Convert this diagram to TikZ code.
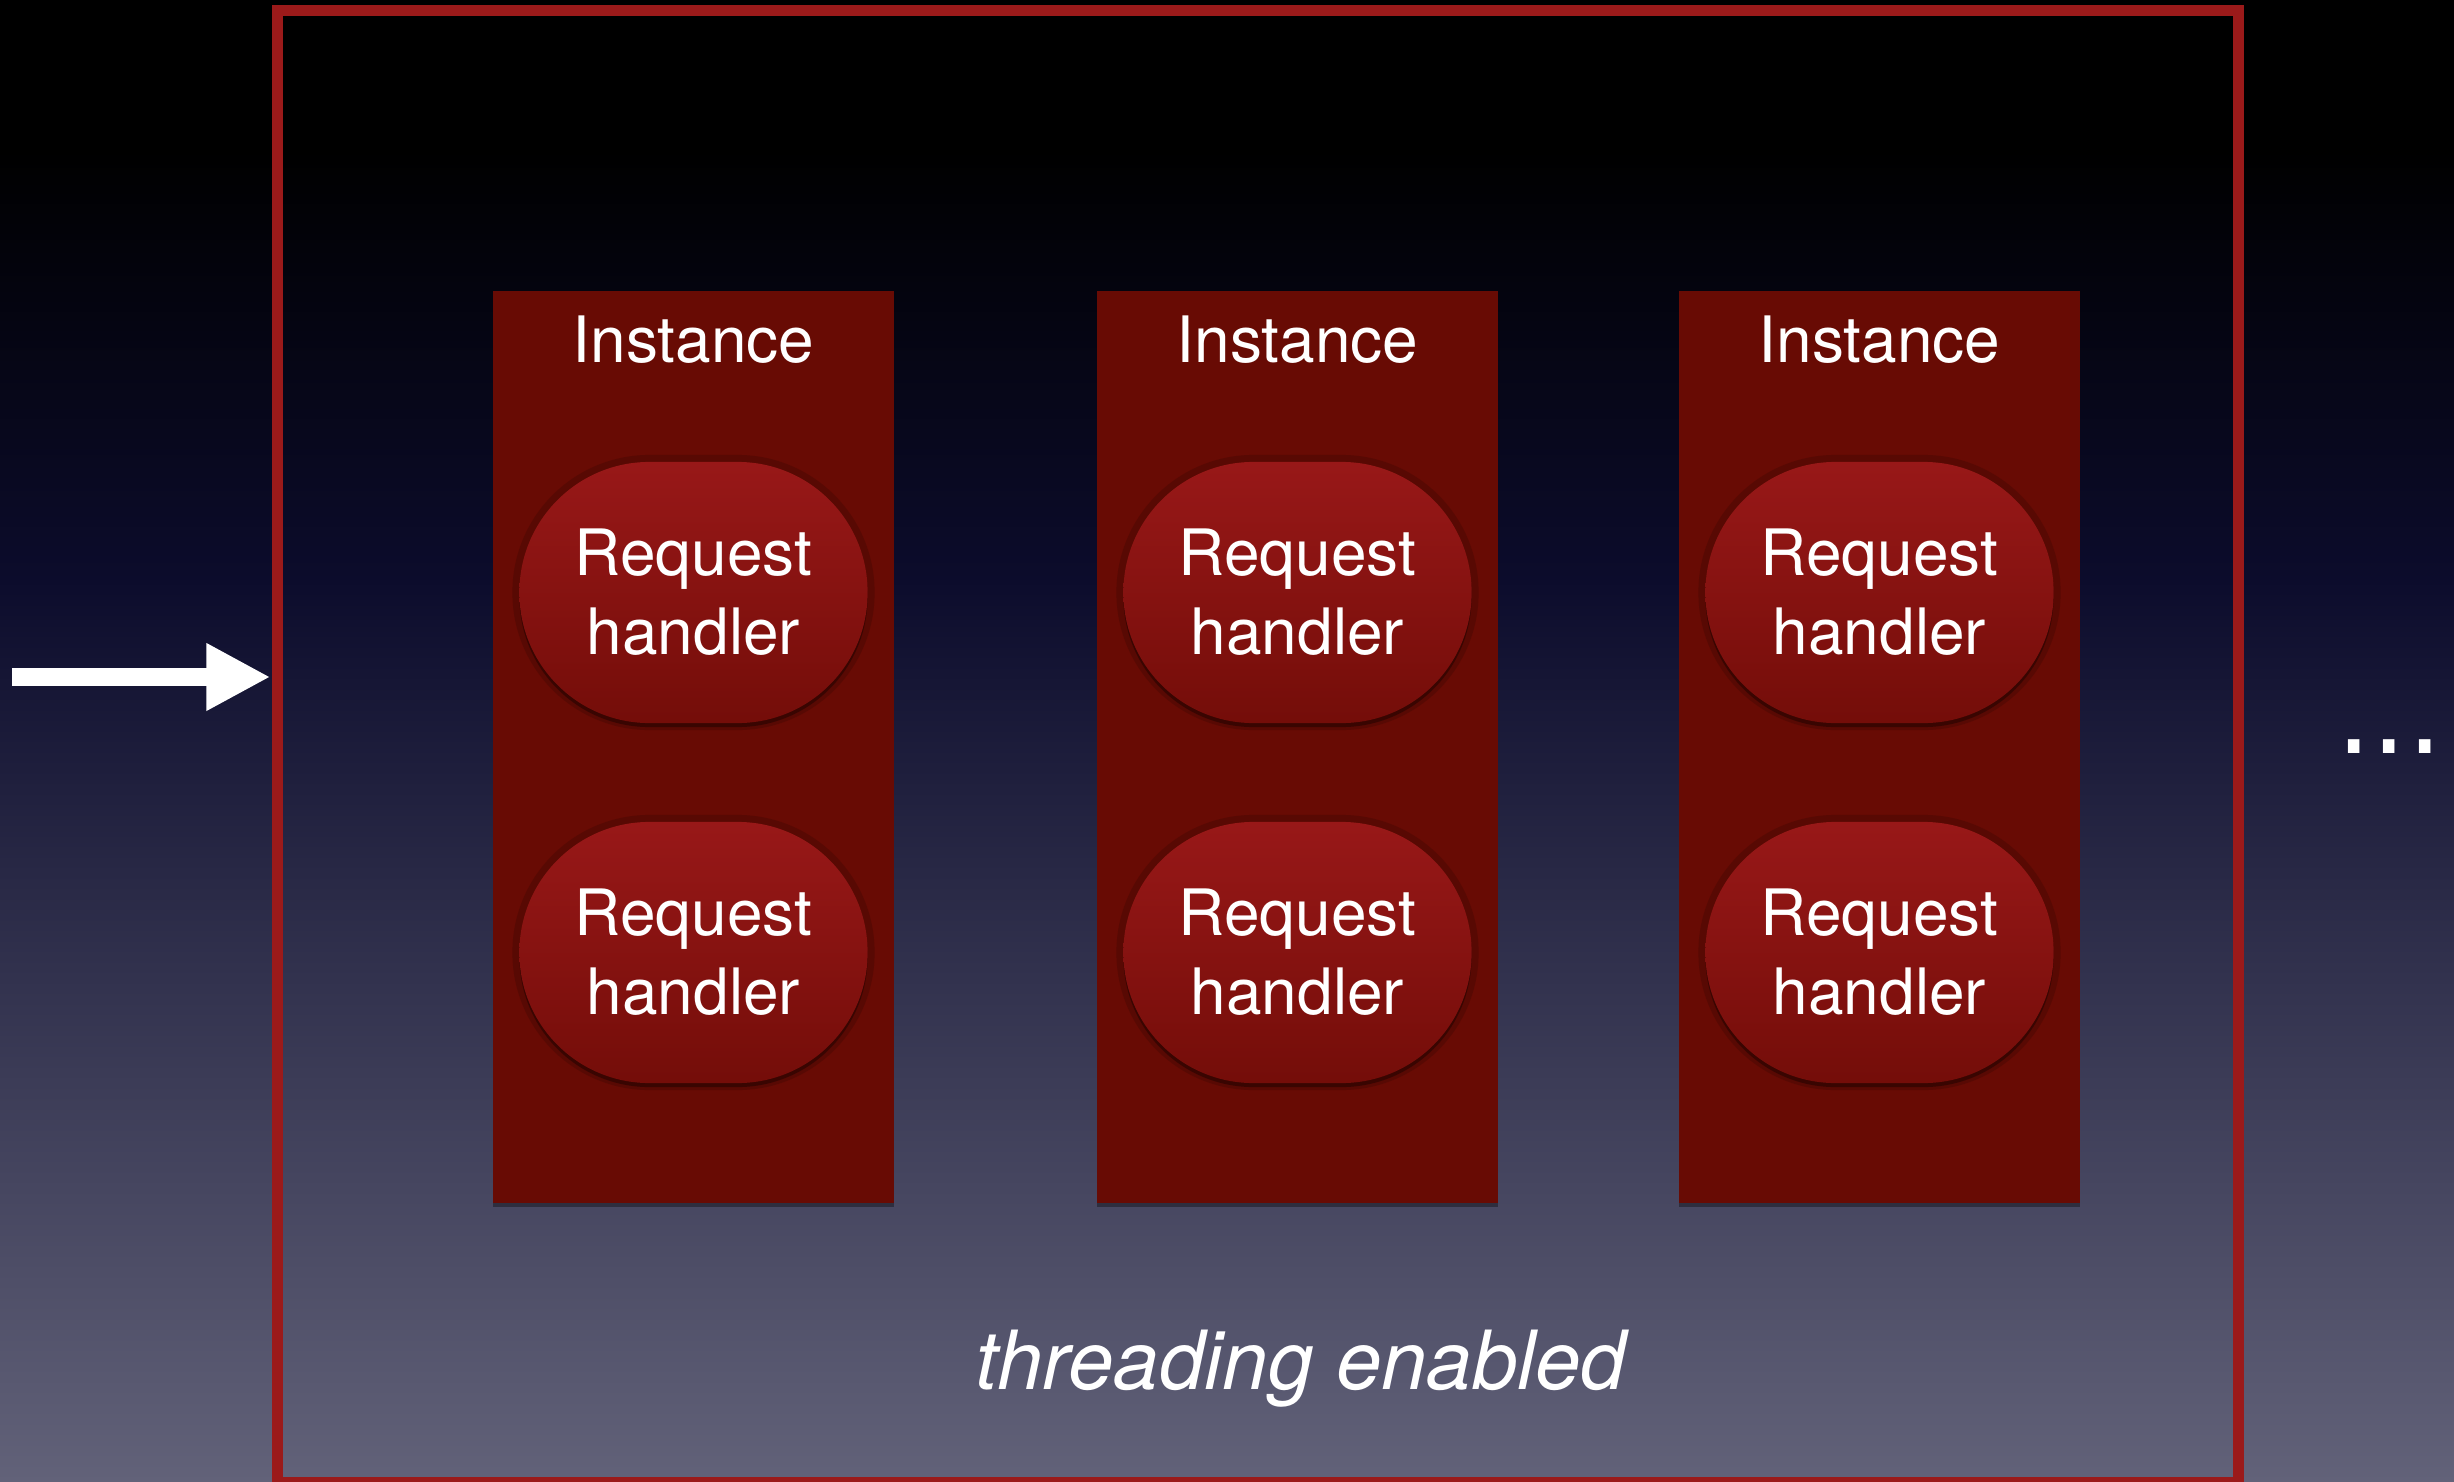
\documentclass[tikz,border=0pt]{standalone}
\usepackage{fontspec}
\setmainfont{TeX Gyre Heros}
\newfontfamily\dotfont{DejaVu Sans}
\usepackage{tikz}
\usetikzlibrary{arrows.meta,shadows}
\definecolor{bgmid}{HTML}{0C0C2C}
\definecolor{bgbot}{HTML}{626279}
\definecolor{framered}{HTML}{9B1A1A}
\definecolor{instred}{HTML}{680B04}
\definecolor{rhtop}{HTML}{981818}
\definecolor{rhbot}{HTML}{740D09}
\tikzset{
every picture/.style={x=0.01cm,y=-0.01cm},
frame/.style={draw=framered, line width=0.11cm, minimum width=19.59cm,
  minimum height=14.72cm, inner sep=0pt},
instance/.style={fill=instred, minimum width=4.01cm, minimum height=9.12cm,
  inner sep=0pt, drop shadow={fill=black, shadow xshift=0cm, shadow yshift=-0.04cm, opacity=0.35}},
handler/.style={rounded corners=1.3cm, top color=rhtop, bottom color=rhbot,
  minimum width=3.48cm, minimum height=2.61cm, align=center, text=white,
  font=\fontsize{18.2}{22.5}\selectfont,
  preaction={draw=black, draw opacity=0.15, line width=0.14cm},
  drop shadow={fill=black, shadow xshift=0cm, shadow yshift=-0.04cm, opacity=0.35}},
label/.style={text=white, font=\fontsize{18.2}{22.5}\selectfont, inner sep=0pt}
}

\begin{document}
\begin{tikzpicture}
      \useasboundingbox (0,0) rectangle (2454,1482);
      % background
      \fill[black] (0,0) rectangle (2454,151);
      \fill[top color=black, bottom color=bgmid] (0,150) rectangle (2454,580);
      \fill[top color=bgmid, bottom color=bgbot] (0,579) rectangle (2454,1482);
      \node[frame] (frame) at (1258,746.5) {};
      \foreach \x [count=\i] in {693.5,1297.5,1879.5} {
        \node[instance] (inst\i) at (\x,747) {};
        \node[label, anchor=base] (title\i) at (\x,363) {Instance};
        \node[handler] (rha\i) at (\x,592.5) {Request\\handler};
        \node[handler] (rhb\i) at (\x,952.5) {Request\\handler};
      }
      \node[label, font=\fontsize{23.2}{28}\selectfont\itshape, anchor=base] (mode) at (1301,1389) {threading enabled};
      \node[label, font=\dotfont\fontsize{31.7}{36}\selectfont, anchor=base] (more) at (2389.5,753) {...};
      \coordinate (in) at (12,677);
      \draw[white, line width=0.17cm, -{Triangle[width=0.63cm,length=0.64cm]}, shorten >=0.02cm] (in) -- (in -| frame.west);
    \end{tikzpicture}
\end{document}
